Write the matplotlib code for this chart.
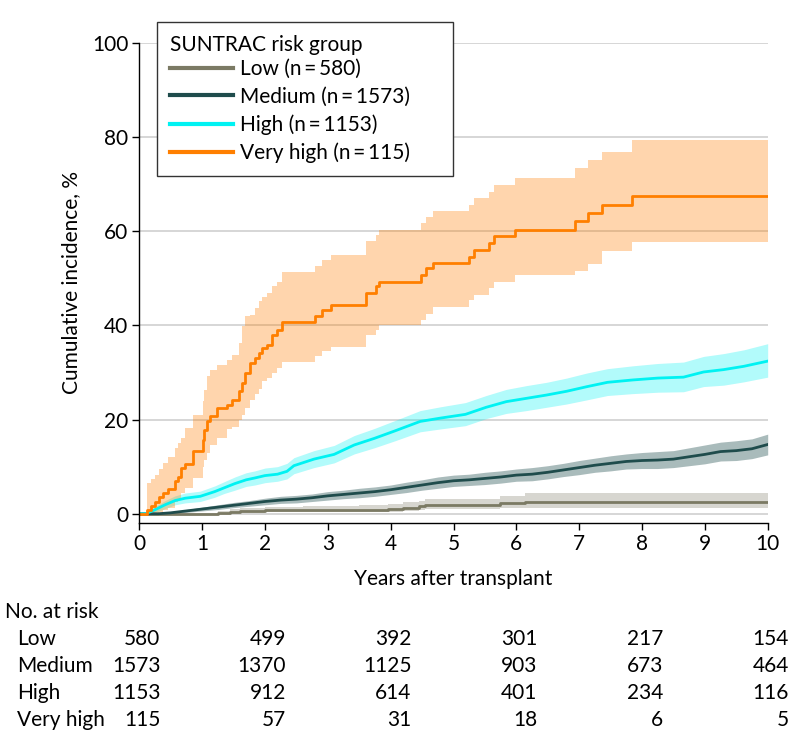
import matplotlib
matplotlib.use("Agg")
import matplotlib.pyplot as plt
import matplotlib.transforms as mtransforms

plt.rcParams['font.family'] = ['Lato', 'DejaVu Sans']

# Cumulative incidence (%), by SUNTRAC risk group
low_t = [0, 1.25, 1.45, 1.6, 2.0, 2.6, 3.0, 3.5, 3.95, 4.2, 4.45, 4.55, 5.0, 5.74, 6.14, 10]
low_est = [0, 0.2, 0.4, 0.6, 0.7, 0.8, 0.85, 0.9, 1.0, 1.3, 1.6, 1.8, 1.9, 2.3, 2.5, 2.5]
low_hi = [0, 0.6, 1.0, 1.3, 1.5, 1.6, 1.7, 1.8, 2.0, 2.4, 2.8, 3.1, 3.2, 3.8, 4.4, 4.4]
low_lo = [0, 0, 0.1, 0.2, 0.3, 0.3, 0.35, 0.4, 0.45, 0.6, 0.8, 1.0, 1.1, 1.3, 1.3, 1.3]

med_t = [0, 0.3, 0.5, 0.75, 1.0, 1.25, 1.5, 1.75, 2.0, 2.25, 2.5, 2.75, 3.0, 3.25, 3.5,
         3.75, 4.0, 4.25, 4.5, 4.75, 5.0, 5.25, 5.5, 5.75, 6.0, 6.25, 6.5, 6.75, 7.0,
         7.25, 7.5, 7.75, 8.0, 8.25, 8.5, 8.75, 9.0, 9.25, 9.5, 9.75, 10.0]
med_est = [0, 0.0, 0.2, 0.6, 1.0, 1.4, 1.8, 2.2, 2.6, 2.9, 3.1, 3.4, 3.8, 4.1, 4.4,
           4.7, 5.1, 5.6, 6.1, 6.6, 7.0, 7.2, 7.5, 7.8, 8.2, 8.4, 8.8, 9.3, 9.8,
           10.3, 10.7, 11.1, 11.3, 11.4, 11.6, 12.1, 12.6, 13.2, 13.4, 13.8, 14.7]
med_hi = [0, 0.1, 0.4, 0.9, 1.4, 1.9, 2.4, 2.8, 3.3, 3.7, 3.9, 4.2, 4.7, 5.0, 5.4,
          5.7, 6.1, 6.7, 7.2, 7.8, 8.2, 8.4, 8.8, 9.1, 9.5, 9.8, 10.2, 10.7, 11.3,
          11.8, 12.3, 12.7, 13.0, 13.2, 13.4, 14.0, 14.6, 15.2, 15.5, 15.9, 16.9]
med_lo = [0, 0, 0.05, 0.3, 0.6, 0.9, 1.3, 1.6, 1.9, 2.2, 2.3, 2.6, 2.9, 3.2, 3.4,
          3.7, 4.1, 4.5, 5.0, 5.4, 5.8, 6.0, 6.2, 6.5, 6.9, 7.0, 7.4, 7.9, 8.3,
          8.8, 9.1, 9.5, 9.6, 9.6, 9.8, 10.2, 10.6, 11.2, 11.3, 11.7, 12.5]

high_t = [0, 0.1, 0.25, 0.41, 0.57, 0.73, 0.97, 1.2, 1.35, 1.52, 1.7, 1.84, 2.0, 2.2,
          2.35, 2.46, 2.78, 3.10, 3.42, 3.74, 4.07, 4.47, 4.79, 5.19, 5.52, 5.84,
          6.16, 6.48, 6.80, 7.13, 7.45, 7.85, 8.25, 8.66, 8.98, 9.30, 9.62, 10.0]
high_est = [0, 0, 0.85, 1.9, 2.8, 3.3, 3.7, 4.7, 5.5, 6.4, 7.2, 7.6, 8.1, 8.4,
            9.0, 10.2, 11.6, 12.6, 14.6, 16.0, 17.6, 19.6, 20.3, 21.1, 22.6, 23.8,
            24.5, 25.2, 26.0, 27.0, 27.9, 28.4, 28.8, 29.0, 30.1, 30.6, 31.3, 32.4]
high_hi = [0, 0, 1.5, 2.8, 3.8, 4.4, 4.8, 5.9, 6.8, 7.8, 8.7, 9.1, 9.7, 10.0,
           10.7, 11.9, 13.4, 14.5, 16.6, 18.1, 19.8, 21.9, 22.7, 23.6, 25.1, 26.4,
           27.2, 27.9, 28.8, 29.9, 30.8, 31.4, 31.9, 32.2, 33.4, 34.0, 34.8, 36.1]
high_lo = [0, 0, 0.3, 1.1, 1.9, 2.3, 2.6, 3.5, 4.3, 5.0, 5.8, 6.1, 6.6, 6.9,
           7.4, 8.5, 9.8, 10.8, 12.7, 14.0, 15.5, 17.4, 18.0, 18.7, 20.2, 21.3,
           21.9, 22.6, 23.3, 24.2, 25.1, 25.5, 25.8, 25.9, 27.0, 27.3, 28.0, 29.0]

vh_t = [0, 0.13, 0.19, 0.25, 0.31, 0.38, 0.45, 0.57, 0.62, 0.66, 0.73, 0.86, 1.01, 1.03,
        1.07, 1.13, 1.24, 1.39, 1.47, 1.58, 1.63, 1.68, 1.76, 1.84, 1.90, 1.95, 2.03,
        2.11, 2.19, 2.27, 2.80, 2.90, 3.05, 3.60, 3.77, 3.82, 4.49, 4.57, 4.67, 5.24,
        5.32, 5.57, 5.65, 5.98, 6.94, 7.14, 7.37, 7.84, 10.0]
vh_est = [0, 0.9, 1.7, 2.6, 3.5, 4.4, 5.2, 7.0, 7.9, 9.7, 10.6, 13.3, 15.6, 17.8,
          19.6, 20.7, 22.4, 23.1, 24.2, 26.0, 27.7, 29.9, 32.0, 33.1, 34.1, 35.2, 35.9,
          38.0, 39.1, 40.8, 42.0, 43.3, 44.4, 46.9, 48.3, 49.3, 50.7, 52.2, 53.2, 54.6,
          55.9, 57.5, 58.9, 60.3, 62.1, 63.8, 65.6, 67.5, 67.5]
vh_hi = [0, 6.5, 7.4, 8.3, 9.5, 10.8, 12.0, 13.9, 15.0, 16.1, 18.2, 21.0, 24.0, 26.3,
         29.3, 30.5, 31.6, 32.7, 33.8, 36.2, 39.8, 41.9, 42.2, 43.7, 45.1, 46.1, 46.8,
         48.3, 49.3, 51.4, 52.5, 53.8, 55.0, 57.8, 59.2, 60.3, 61.7, 63.1, 64.2, 65.6,
         67.0, 68.4, 69.8, 71.3, 73.4, 75.2, 76.9, 79.3, 79.3]
vh_lo = [0, 0, 0, 0, 0.3, 0.8, 1.3, 2.5, 3.2, 4.5, 5.5, 7.5, 10.0, 11.5,
         12.9, 14.5, 16.1, 18.0, 18.5, 20.0, 21.0, 22.4, 24.2, 25.5, 26.5, 28.1, 28.8,
         29.9, 31.0, 32.3, 33.4, 34.5, 35.5, 38.0, 39.1, 40.1, 41.2, 42.4, 43.8, 45.4,
         46.5, 47.9, 49.3, 50.7, 51.5, 53.0, 55.7, 57.7, 57.7]

labels = ['Low (n\u2009=\u2009580)', 'Medium (n\u2009=\u20091573)',
          'High (n\u2009=\u20091153)', 'Very high (n\u2009=\u2009115)']
colors = ['#7b7a64', '#1f4c4c', '#00f2f2', '#ff7f00']

risk_times = [0, 2, 4, 6, 8, 10]
risk_groups = ['Low', 'Medium', 'High', 'Very high']
risk_counts = [
    [580, 499, 392, 301, 217, 154],
    [1573, 1370, 1125, 903, 673, 464],
    [1153, 912, 614, 401, 234, 116],
    [115, 57, 31, 18, 6, 5],
]

FS = 15
W, H = 794, 748
fig = plt.figure(figsize=(W / 100, H / 100), dpi=100)
ax = fig.add_axes([139.3 / W, 1 - 522.7 / H, (767.7 - 139.3) / W, (522.7 - 42.7) / H])

# confidence bands
ax.fill_between(low_t, low_lo, low_hi, step='post', color=colors[0], alpha=0.3, lw=0)
ax.fill_between(med_t, med_lo, med_hi, color=colors[1], alpha=0.38, lw=0)
ax.fill_between(high_t, high_lo, high_hi, color=colors[2], alpha=0.3, lw=0)
ax.fill_between(vh_t, vh_lo, vh_hi, step='post', color=colors[3], alpha=0.32, lw=0)

# estimates
lines = []
lines += ax.step(low_t, low_est, where='post', color=colors[0], lw=2.0)
lines += ax.plot(med_t, med_est, color=colors[1], lw=2.0)
lines += ax.plot(high_t, high_est, color=colors[2], lw=2.0)
lines += ax.step(vh_t, vh_est, where='post', color=colors[3], lw=2.0)

ax.set_xlim(0, 10)
ax.set_ylim(-1.9, 100)
ax.set_xticks(range(0, 11))
ax.set_yticks(range(0, 101, 20))
ax.set_axisbelow(True)
ax.yaxis.grid(True, color='#d6d6d6', lw=1.4)
for s in ['top', 'right']:
    ax.spines[s].set_visible(False)
ax.spines['left'].set_linewidth(1.0)
ax.spines['bottom'].set_linewidth(1.0)
ax.tick_params(direction='out', length=5, width=1, labelsize=FS, pad=3)

fig.text(71 / W, 1 - 282.7 / H, 'Cumulative incidence, %', rotation=90,
         ha='center', va='center', fontsize=FS)
fig.text(453.5 / W, 1 - 579 / H, 'Years after transplant', ha='center', va='center',
         fontsize=FS)

leg = ax.legend(lines, labels, title='SUNTRAC risk group', loc='upper left',
                bbox_to_anchor=(157.3 / W, 1 - 172.3 / H, (453.3 - 157.3) / W, (172.3 - 21.7) / H),
                bbox_transform=fig.transFigure, mode='expand', borderaxespad=0,
                fancybox=False, edgecolor='#333333', framealpha=1, fontsize=FS,
                title_fontsize=FS, handlelength=3.0, handletextpad=0.35,
                labelspacing=0.37, borderpad=0.62, alignment='left')
leg._legend_box.sep = 0.15 * FS * fig.dpi / 72
leg.get_frame().set_linewidth(1.0)
for h in leg.legend_handles:
    h.set_linewidth(3)

# number at risk table
fig.text(5 / W, 1 - 611.7 / H, 'No. at risk', ha='left', va='center', fontsize=FS)
row_y = [639, 666, 692.7, 720]
trans = mtransforms.blended_transform_factory(ax.transData, fig.transFigure) + \
    mtransforms.ScaledTranslation(21 / 100, 0, fig.dpi_scale_trans)
for grp, counts, yy in zip(risk_groups, risk_counts, row_y):
    fig.text(17.3 / W, 1 - yy / H, grp, ha='left', va='center', fontsize=FS)
    for t, c in zip(risk_times, counts):
        ax.text(t, 1 - yy / H, str(c), transform=trans, ha='right', va='center',
                fontsize=FS, clip_on=False)

fig.savefig('out.png', dpi=100)
